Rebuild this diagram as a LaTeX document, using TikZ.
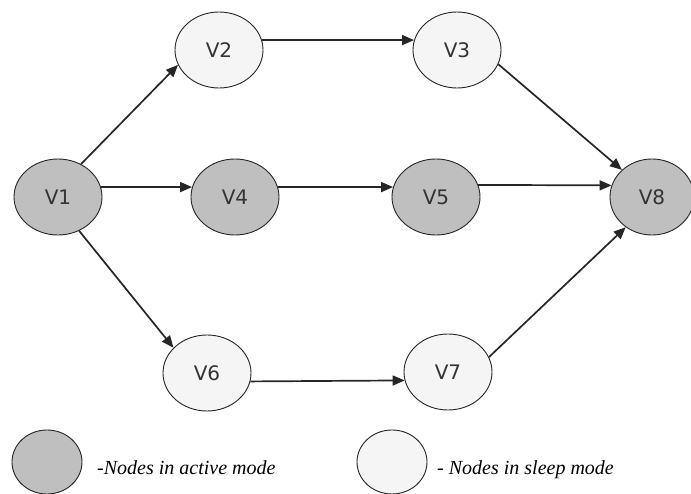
\documentclass[tikz,border=0pt]{standalone}
\usepackage{fontspec}
\setmainfont{Liberation Serif}
\newfontfamily\vfont{DejaVu Sans}
\usetikzlibrary{shapes.geometric,arrows.meta}

\begin{document}
\begin{tikzpicture}[x=1pt,y=-1pt,
    vtx/.style={ellipse, draw=black!85, line width=0.9pt, minimum width=88pt, minimum height=76pt,
      inner sep=0pt, font=\vfont\fontsize{20}{24}\selectfont, text=black!80},
    active/.style={vtx, fill=black!25},
    sleep/.style={vtx, fill=black!4},
    link/.style={-{Triangle[length=12pt,width=10pt]}, line width=1.7pt, draw=black!85},
    legendtext/.style={anchor=base west, inner sep=0pt, font=\itshape\fontsize{20}{24}\selectfont}]
    \useasboundingbox (0,0) rectangle (691,494);
    % vertices
    \node[active] (v1) at (58,197) {V1};
    \node[sleep]  (v2) at (219,50) {V2};
    \node[sleep]  (v3) at (457,50) {V3};
    \node[active] (v4) at (235,197) {V4};
    \node[active] (v5) at (436,197) {V5};
    \node[active, minimum width=84pt] (v8) at (652,197) {V8};
    \node[sleep]  (v6) at (207,373) {V6};
    \node[sleep]  (v7) at (448,372) {V7};
    % edges
    \draw[link] (v1.55) -- (v2.200);
    \draw[link] (v2.13) -- (v3.167);
    \draw[link] (v3.-19) -- (v8.138);
    \draw[link] (v1.13) -- (v4.167);
    \draw[link] (v4.13) -- (v5.167);
    \draw[link] (v5.16) -- (v8.164);
    \draw[link] (v1.-58) -- (v6.143);
    \draw[link] (v6.-11) -- (v7.-169);
    \draw[link] (v7.20) -- (v8.229);
    % legend
    \node[active, minimum width=70pt, minimum height=64pt] (la) at (47,462) {};
    \node[legendtext] (lat) at (97,474) {-Nodes in active mode};
    \node[sleep, minimum width=70pt, minimum height=64pt] (ls) at (392,462) {};
    \node[legendtext] (lst) at (437,474) {- Nodes in sleep mode};
\end{tikzpicture}
\end{document}
